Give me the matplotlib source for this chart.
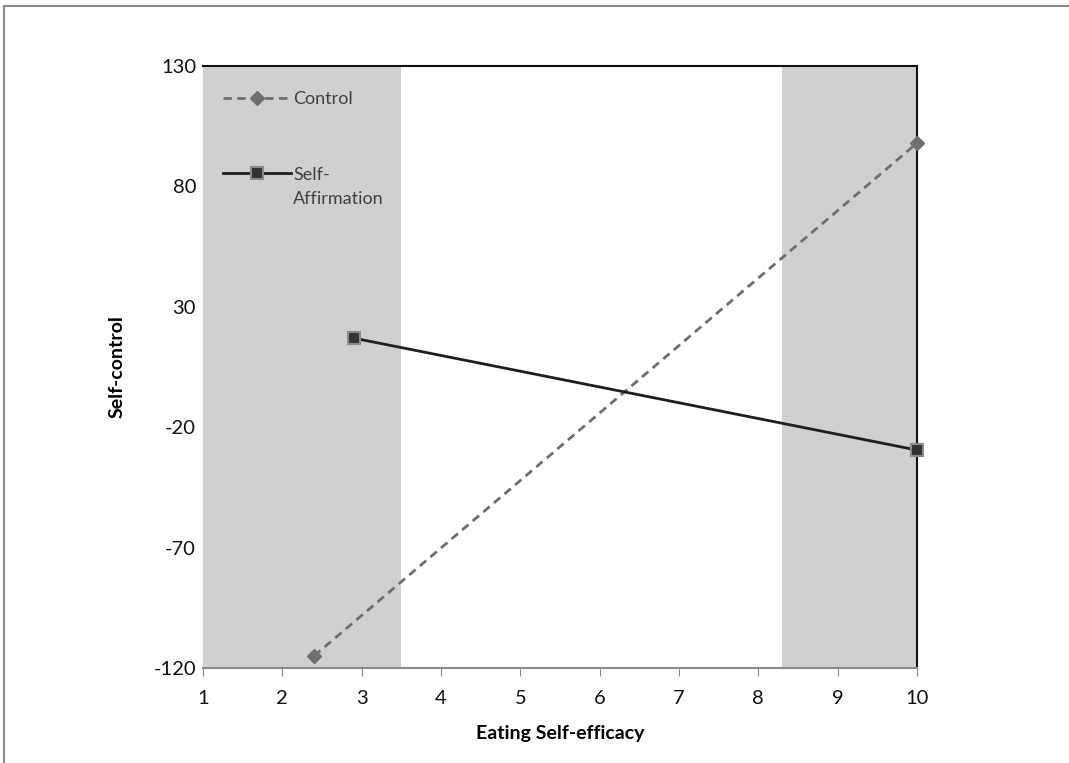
import matplotlib.pyplot as plt
from matplotlib.lines import Line2D

# data
control_x = [2.4, 10]
control_y = [-115, 98]
affirm_x = [2.9, 10]
affirm_y = [17, -29.5]
shade_ranges = [(1, 3.5), (8.3, 10)]
x_ticks = list(range(1, 11))
y_ticks = [-120, -70, -20, 30, 80, 130]

plt.rcParams['font.family'] = ['Lato', 'DejaVu Sans']
plt.rcParams['axes.unicode_minus'] = False

fig = plt.figure(figsize=(10.69, 7.63), dpi=100)
ax = fig.add_axes([203 / 1069, 1 - 668 / 763, 714 / 1069, 602 / 763])

for lo, hi in shade_ranges:
    ax.axvspan(lo, hi, color='#d0d0d0', lw=0, zorder=0)

ax.plot(control_x, control_y, color='#6e6e6e', ls=(0, (3, 2)), lw=2,
        marker='D', ms=7, mfc='#6e6e6e', mec='#6e6e6e', label='Control',
        zorder=3, clip_on=False)
ax.plot(affirm_x, affirm_y, color='#1e1e1e', lw=2,
        marker='s', ms=9, mfc='#333333', mec='#8a8a8a', mew=1.5,
        label='Self-\nAffirmation', zorder=3, clip_on=False)

ax.set_xlim(1, 10)
ax.set_ylim(-120, 130)
ax.set_xticks(x_ticks)
ax.set_yticks(y_ticks)
ax.tick_params(axis='x', direction='out', length=6, color='#8a8a8a',
               labelsize=14.5, pad=10, labelcolor='#111111')
ax.tick_params(axis='y', length=0, labelsize=14.5, pad=5, labelcolor='#111111')

ax.spines['left'].set_visible(False)
ax.spines['bottom'].set_color('#8a8a8a')
ax.spines['bottom'].set_linewidth(1.5)
for side in ('top', 'right'):
    ax.spines[side].set_color('#111111')
    ax.spines[side].set_linewidth(1.5)

ax.set_xlabel('Eating Self-efficacy', fontsize=14, fontweight='bold', labelpad=13)
ax.set_ylabel('Self-control', fontsize=14, fontweight='bold', labelpad=20)

leg = ax.legend(loc='upper left', bbox_to_anchor=(0.005, 0.985), frameon=False,
                fontsize=13, labelspacing=3.3, handlelength=3.8, handletextpad=0.1,
                labelcolor='#404040')
for t in leg.get_texts():
    t.set_linespacing(1.65)
# put the handle next to the first line of a two-line label
for col in leg._legend_handle_box.get_children():
    for item in col.get_children():
        item.align = 'top'

# outer frame of the original figure
fig.add_artist(Line2D([4 / 1069, 1], [1 - 6 / 763, 1 - 6 / 763], color='#8a8a8a', lw=1.5))
fig.add_artist(Line2D([4 / 1069, 4 / 1069], [0, 1 - 6 / 763], color='#8a8a8a', lw=1.5))

fig.savefig('out.png', dpi=100, facecolor='white')
